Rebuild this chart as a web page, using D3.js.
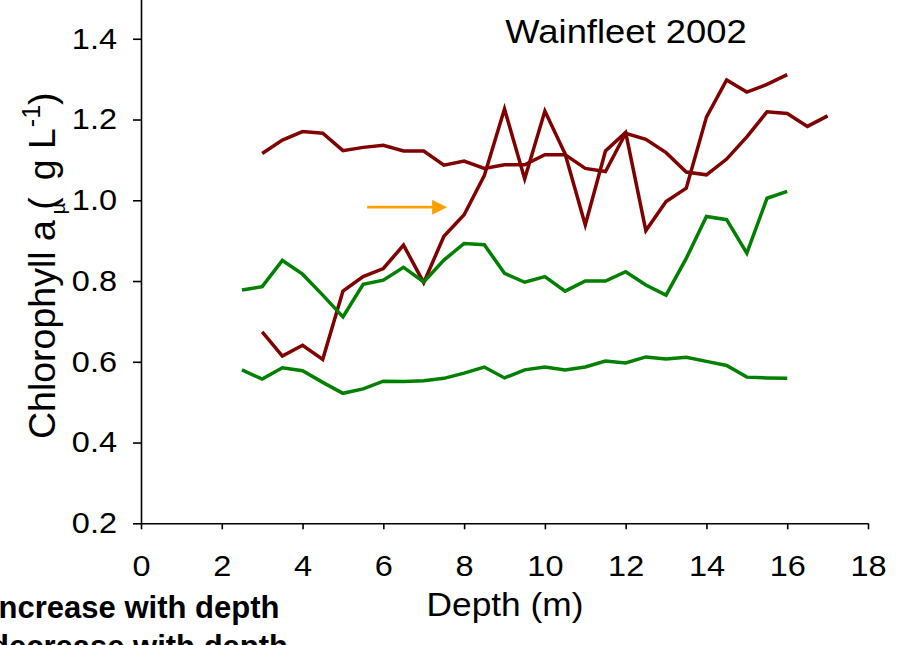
<!DOCTYPE html>
<html>
<head>
<meta charset="utf-8">
<script src="https://cdn.jsdelivr.net/npm/d3@7/dist/d3.min.js"></script>
<style>
  body { margin: 0; background: #fff; }
  svg { display: block; }
  text { font-family: "Liberation Sans", Arial, sans-serif; fill: #000; }
</style>
</head>
<body>
<svg id="chart" width="903" height="645"></svg>
<script>
// Depth profiles of chlorophyll a, Wainfleet 2002
const depthRedUpper = [3, 3.5, 4, 4.5, 5, 5.5, 6, 6.5, 7, 7.5, 8, 8.5, 9, 9.5, 10, 10.5, 11, 11.5, 12, 12.5, 13, 13.5, 14, 14.5, 15, 15.5, 16, 16.5, 17];
const chlRedUpper = [1.116, 1.149, 1.170, 1.166, 1.123, 1.131, 1.136, 1.122, 1.122, 1.087, 1.097, 1.079, 1.088, 1.088, 1.113, 1.113, 1.079, 1.071, 1.166, 1.151, 1.118, 1.070, 1.063, 1.102, 1.157, 1.219, 1.215, 1.183, 1.209];

const depthRedRising = [3, 3.5, 4, 4.5, 5, 5.5, 6, 6.5, 7, 7.5, 8, 8.5, 9, 9.5, 10, 10.5, 11, 11.5, 12, 12.5, 13, 13.5, 14, 14.5, 15, 15.5, 16];
const chlRedRising = [0.674, 0.614, 0.641, 0.606, 0.775, 0.811, 0.831, 0.889, 0.796, 0.911, 0.964, 1.061, 1.226, 1.053, 1.221, 1.115, 0.939, 1.122, 1.168, 0.925, 0.997, 1.030, 1.206, 1.298, 1.268, 1.287, 1.311];

const depthGreenUpper = [2.5, 3, 3.5, 4, 4.5, 5, 5.5, 6, 6.5, 7, 7.5, 8, 8.5, 9, 9.5, 10, 10.5, 11, 11.5, 12, 12.5, 13, 13.5, 14, 14.5, 15, 15.5, 16];
const chlGreenUpper = [0.778, 0.786, 0.851, 0.817, 0.765, 0.711, 0.792, 0.802, 0.834, 0.798, 0.852, 0.893, 0.890, 0.819, 0.797, 0.811, 0.775, 0.800, 0.800, 0.823, 0.790, 0.765, 0.856, 0.960, 0.952, 0.869, 1.005, 1.022];

const depthGreenLower = [2.5, 3, 3.5, 4, 4.5, 5, 5.5, 6, 6.5, 7, 7.5, 8, 8.5, 9, 9.5, 10, 10.5, 11, 11.5, 12, 12.5, 13, 13.5, 14, 14.5, 15, 15.5, 16];
const chlGreenLower = [0.580, 0.557, 0.585, 0.578, 0.549, 0.522, 0.533, 0.552, 0.551, 0.553, 0.559, 0.572, 0.587, 0.560, 0.580, 0.587, 0.580, 0.587, 0.602, 0.597, 0.612, 0.607, 0.611, 0.601, 0.591, 0.562, 0.560, 0.559];

const xTicks = [0, 2, 4, 6, 8, 10, 12, 14, 16, 18];
const yTicks = [0.2, 0.4, 0.6, 0.8, 1.0, 1.2, 1.4, 1.6];

// orange arrow marking the depth of the rise
const arrowFrom = [5.6, 0.983];
const arrowTo = [7.58, 0.983];

const titleText = "Wainfleet 2002";
const xTitle = "Depth (m)";
const noteLines = ["Increase with depth", "decrease with depth"];

const RED = "#800000", GREEN = "#008000", ORANGE = "#ffa000";

const series = [
  { depth: depthRedUpper, value: chlRedUpper, color: RED },
  { depth: depthRedRising, value: chlRedRising, color: RED },
  { depth: depthGreenUpper, value: chlGreenUpper, color: GREEN },
  { depth: depthGreenLower, value: chlGreenLower, color: GREEN }
];

const svg = d3.select("#chart");

const x = d3.scaleLinear().domain([0, 18]).range([141, 868]);
const y = d3.scaleLinear().domain([0.2, 1.6]).range([523.3, -42]);

// tick labels are set slightly wide: scale glyphs horizontally
const TICK_FONT = 29, TICK_WIDEN = 1.12;

const xAxis = d3.axisBottom(x)
  .tickValues(xTicks)
  .tickSize(6)
  .tickSizeOuter(0)
  .tickPadding(26)
  .tickFormat(d3.format("d"));

const yAxis = d3.axisLeft(y)
  .tickValues(yTicks)
  .tickSize(8)
  .tickSizeOuter(0)
  .tickPadding(16)
  .tickFormat(d3.format(".1f"));

const gx = svg.append("g")
  .attr("transform", `translate(0,${y(0.2)})`)
  .call(xAxis);
const gy = svg.append("g")
  .attr("transform", `translate(${x(0)},0)`)
  .call(yAxis);

[gx, gy].forEach(g => {
  g.attr("font-family", null).attr("font-size", null);
  g.selectAll("path.domain").attr("stroke", "#000").attr("stroke-width", 1.6);
  g.selectAll(".tick line").attr("stroke", "#000").attr("stroke-width", 1.6);
  g.selectAll(".tick text").style("font-size", TICK_FONT + "px").attr("fill", "#000");
});

gx.selectAll(".tick text").each(function () {
  const t = d3.select(this);
  const ty = +t.attr("y");
  t.attr("y", 0).attr("transform", `translate(0,${ty}) scale(${TICK_WIDEN},1)`);
});
gy.selectAll(".tick text").each(function () {
  const t = d3.select(this);
  const tx = +t.attr("x");
  t.attr("x", 0).attr("transform", `translate(${tx},0) scale(${TICK_WIDEN},1)`);
});

// data lines
const line = d3.line()
  .x(d => x(d[0]))
  .y(d => y(d[1]));

svg.append("g")
  .selectAll("path")
  .data(series)
  .join("path")
  .attr("d", s => line(s.depth.map((d, i) => [d, s.value[i]])))
  .attr("fill", "none")
  .attr("stroke", s => s.color)
  .attr("stroke-width", 3.5)
  .attr("stroke-linejoin", "miter");

// arrow
const ax1 = x(arrowFrom[0]), ax2 = x(arrowTo[0]), ay = y(arrowFrom[1]);
const headLen = 15, headHalf = 7.5;
svg.append("line")
  .attr("x1", ax1).attr("x2", ax2 - headLen + 1)
  .attr("y1", ay).attr("y2", ay)
  .attr("stroke", ORANGE).attr("stroke-width", 2.6);
svg.append("path")
  .attr("d", `M${ax2},${ay}L${ax2 - headLen},${ay - headHalf}L${ax2 - headLen},${ay + headHalf}Z`)
  .attr("fill", ORANGE);

// title
svg.append("text")
  .attr("transform", "translate(626,42.5) scale(1.07,1)")
  .attr("text-anchor", "middle")
  .style("font-size", "34px")
  .text(titleText);

// x axis title
svg.append("text")
  .attr("transform", "translate(505,616) scale(1.07,1)")
  .attr("text-anchor", "middle")
  .style("font-size", "33px")
  .text(xTitle);

// y axis title with the micro sign and superscript
const yl = svg.append("text")
  .attr("transform", "translate(55,439) rotate(-90)")
  .attr("text-anchor", "start")
  .style("font-size", "37.5px");
yl.append("tspan").text("Chlorophyll a (");
yl.append("tspan").attr("dx", -17).attr("dy", 10).style("font-size", "20px").text("\u00b5");
yl.append("tspan").attr("dx", 12).attr("dy", -10).text(" g L");
yl.append("tspan").attr("dx", 1).attr("dy", -15).style("font-size", "25px").text("-1");
yl.append("tspan").attr("dy", 15).text(")");

// notes at lower left
svg.append("g")
  .selectAll("text")
  .data(noteLines)
  .join("text")
  .attr("x", -10)
  .attr("y", (d, i) => 618 + i * 39)
  .style("font-size", "31px")
  .style("font-weight", "bold")
  .text(d => d);
</script>
</body>
</html>
